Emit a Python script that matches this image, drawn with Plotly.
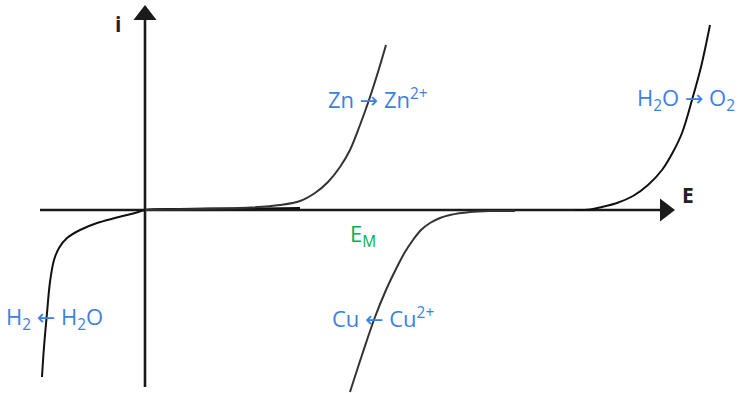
import plotly.graph_objects as go

# Polarisation curves i = f(E) (arbitrary units, origin at axis crossing)
h2_E = [-1.03, -1.01, -0.98, -0.95, -0.91, -0.86, -0.78, -0.65, -0.48, -0.30, -0.10, 0.0, 0.35, 0.75, 1.15, 1.55]
h2_i = [-1.67, -1.37, -1.03, -0.72, -0.50, -0.38, -0.28, -0.20, -0.13, -0.08, -0.03, 0.0, 0.01, 0.015, 0.015, 0.02]

zn_E = [0.0, 0.55, 1.05, 1.35, 1.55, 1.70, 1.83, 1.95, 2.05, 2.15, 2.24, 2.33, 2.41]
zn_i = [0.0, 0.01, 0.025, 0.05, 0.09, 0.17, 0.28, 0.43, 0.60, 0.85, 1.10, 1.38, 1.65]

cu_E = [2.05, 2.17, 2.30, 2.41, 2.52, 2.60, 2.68, 2.76, 2.85, 2.95, 3.05, 3.25, 3.45, 3.70]
cu_i = [-1.82, -1.45, -1.07, -0.80, -0.57, -0.42, -0.30, -0.20, -0.13, -0.08, -0.05, -0.02, -0.01, -0.01]

o2_E = [4.30, 4.45, 4.57, 4.72, 4.88, 5.03, 5.17, 5.28, 5.37, 5.47, 5.56, 5.65]
o2_i = [0.0, 0.005, 0.03, 0.07, 0.14, 0.25, 0.40, 0.58, 0.77, 1.10, 1.43, 1.85]

# Axis extents (E axis and i axis)
E_AXIS = [-1.05, 5.20]
I_AXIS = [-1.77, 1.95]

ARROW_R = '<span style="font-family:DejaVu Sans">→</span>'
ARROW_L = '<span style="font-family:DejaVu Sans">←</span>'

# Reaction labels
labels = ["Zn " + ARROW_R + " Zn<sup>2+</sup>",
          "H<sub>2</sub>O " + ARROW_R + " O<sub>2</sub>",
          "H<sub>2</sub> " + ARROW_L + " H<sub>2</sub>O",
          "Cu " + ARROW_L + " Cu<sup>2+</sup>"]
label_E = [2.33, 5.41, -0.91, 2.38]
label_i = [1.12, 1.11, -1.08, -1.07]

BLUE = "#3d7fe3"
GREEN = "#00b050"
AXIS_COL = "#1a1a1a"

fig = go.Figure()

# axes
fig.add_trace(go.Scatter(x=E_AXIS, y=[0, 0], mode="lines",
                         line=dict(color=AXIS_COL, width=2.6), hoverinfo="skip"))
fig.add_trace(go.Scatter(x=[0, 0], y=I_AXIS, mode="lines",
                         line=dict(color=AXIS_COL, width=2.6), hoverinfo="skip"))
fig.add_trace(go.Scatter(x=[E_AXIS[1]], y=[0], mode="markers",
                         marker=dict(symbol="triangle-right", size=20, color=AXIS_COL),
                         hoverinfo="skip"))
fig.add_trace(go.Scatter(x=[0], y=[I_AXIS[1]], mode="markers",
                         marker=dict(symbol="triangle-up", size=20, color=AXIS_COL),
                         hoverinfo="skip"))

# curves
for xs, ys, col in [(h2_E, h2_i, "#111111"), (zn_E, zn_i, "#333333"),
                    (cu_E, cu_i, "#333333"), (o2_E, o2_i, "#111111")]:
    fig.add_trace(go.Scatter(x=xs, y=ys, mode="lines",
                             line=dict(color=col, width=2, shape="spline", smoothing=1.0),
                             hoverinfo="skip"))

for t, x, y in zip(labels, label_E, label_i):
    fig.add_annotation(x=x, y=y, text=t, showarrow=False,
                       font=dict(family="Open Sans", size=22, color=BLUE))

fig.add_annotation(x=2.18, y=-0.25, text="E<sub>M</sub>", showarrow=False,
                   font=dict(family="Open Sans", size=22, color=GREEN))
fig.add_annotation(x=-0.27, y=1.86, text="<b>i</b>", showarrow=False,
                   font=dict(family="Open Sans", size=21, color="#222222"))
fig.add_annotation(x=5.43, y=0.15, text="<b>E</b>", showarrow=False,
                   font=dict(family="Open Sans", size=21, color="#222222"))

fig.update_layout(
    width=739, height=393,
    margin=dict(l=0, r=0, t=0, b=0),
    paper_bgcolor="white", plot_bgcolor="white",
    showlegend=False,
    xaxis=dict(range=[-1.45, 5.94], visible=False, fixedrange=True),
    yaxis=dict(range=[-1.83, 2.10], visible=False, fixedrange=True),
)

fig.write_html("out.html")
